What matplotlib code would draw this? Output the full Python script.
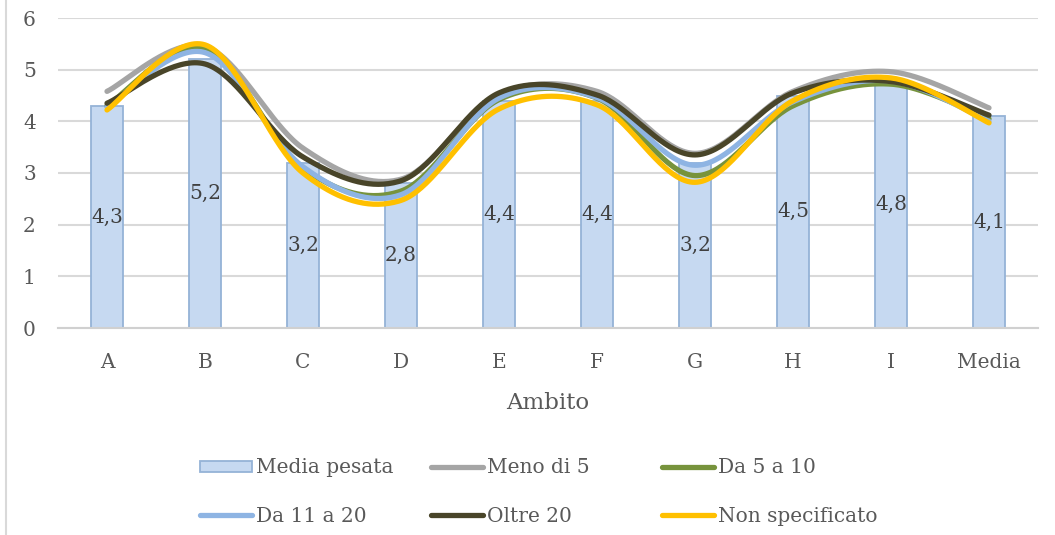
import numpy as np
from matplotlib import pyplot as plt
from matplotlib.patches import Patch
from matplotlib.lines import Line2D

plt.rcParams['font.family'] = ['DejaVu Serif']

# Data
categories = ['A', 'B', 'C', 'D', 'E', 'F', 'G', 'H', 'I', 'Media']
media_pesata = [4.3, 5.2, 3.2, 2.8, 4.4, 4.4, 3.2, 4.5, 4.8, 4.1]
meno_di_5 = [4.58, 5.45, 3.48, 2.88, 4.52, 4.58, 3.38, 4.58, 4.96, 4.26]
da_5_a_10 = [4.3, 5.42, 3.1, 2.65, 4.42, 4.45, 2.95, 4.3, 4.72, 4.05]
da_11_a_20 = [4.28, 5.33, 3.12, 2.58, 4.45, 4.46, 3.15, 4.38, 4.78, 4.0]
oltre_20 = [4.35, 5.11, 3.31, 2.85, 4.55, 4.51, 3.35, 4.55, 4.77, 4.12]
non_specificato = [4.22, 5.48, 3.0, 2.47, 4.24, 4.32, 2.82, 4.4, 4.84, 3.97]

series = [
    ('Meno di 5', meno_di_5, '#a5a5a5'),
    ('Da 5 a 10', da_5_a_10, '#77933c'),
    ('Da 11 a 20', da_11_a_20, '#8eb4e3'),
    ('Oltre 20', oltre_20, '#494529'),
    ('Non specificato', non_specificato, '#ffc000'),
]


def smooth(xs, ys, n=40):
    # Excel-like smoothed line (cubic bezier, catmull-rom control points)
    pts = np.column_stack([xs, ys]).astype(float)
    out = []
    for i in range(len(pts) - 1):
        p0 = pts[i - 1] if i > 0 else pts[i]
        p1, p2 = pts[i], pts[i + 1]
        p3 = pts[i + 2] if i + 2 < len(pts) else pts[i + 1]
        b1 = p1 + (p2 - p0) / 6
        b2 = p2 - (p3 - p1) / 6
        t = np.linspace(0, 1, n)[:, None]
        seg = ((1 - t) ** 3) * p1 + 3 * ((1 - t) ** 2) * t * b1 + 3 * (1 - t) * t ** 2 * b2 + t ** 3 * p2
        out.append(seg if i == 0 else seg[1:])
    out = np.vstack(out)
    return out[:, 0], out[:, 1]


fig = plt.figure(figsize=(10.55, 5.35), dpi=100)
ax = fig.add_axes([58 / 1055, 1 - 328 / 535, 980 / 1055, 310 / 535])

x = np.arange(len(categories))
ax.bar(x, media_pesata, width=0.33, color='#c6d9f1', edgecolor='#95b3d7',
       linewidth=1.3, zorder=2)
for xi, v in zip(x, media_pesata):
    ax.text(xi, v / 2, f'{v:.1f}'.replace('.', ','), ha='center', va='center',
            fontsize=14.5, color='#404040', zorder=5)

handles = {}
for name, vals, col in series:
    sx, sy = smooth(x, vals)
    ax.plot(sx, sy, color=col, lw=3.8, solid_capstyle='round', zorder=3)
    handles[name] = Line2D([], [], color=col, lw=3.8, solid_capstyle='round')
handles['Media pesata'] = Patch(facecolor='#c6d9f1', edgecolor='#95b3d7', linewidth=1.3)

ax.set_xlim(-0.5, len(categories) - 0.5)
ax.set_ylim(0, 6)
ax.set_yticks(range(0, 7))
ax.set_xticks(x)
ax.set_xticklabels(categories)
ax.yaxis.grid(True, color='#d9d9d9', lw=1.5, zorder=0)
ax.set_axisbelow(True)
for s in ['top', 'right', 'left']:
    ax.spines[s].set_visible(False)
ax.spines['bottom'].set_color('#d0d0d0')
ax.spines['bottom'].set_linewidth(1.5)
ax.tick_params(axis='both', length=0, labelsize=14.5, colors='#595959')
ax.tick_params(axis='y', pad=16)
ax.tick_params(axis='x', pad=18)

fig.text(548 / 1055, 1 - 403 / 535, 'Ambito', ha='center', va='center',
         fontsize=16.5, color='#595959')

# chart border on the left
fig.add_artist(Line2D([6 / 1055, 6 / 1055], [0, 1], color='#d9d9d9', lw=1.5))

# legend: three equal-width columns like Excel
columns = [['Media pesata', 'Da 11 a 20'], ['Meno di 5', 'Oltre 20'],
           ['Da 5 a 10', 'Non specificato']]
col_left = [200, 431, 662]
for names, left in zip(columns, col_left):
    fig.legend([handles[k] for k in names], names, ncol=1, loc='center left',
               bbox_to_anchor=(left / 1055, 1 - 492 / 535), frameon=False,
               borderpad=0, borderaxespad=0,
               fontsize=14.5, labelcolor='#595959', handlelength=2.6, handleheight=0.5,
               handletextpad=0.2, labelspacing=1.45)

fig.savefig('out.png', dpi=100)
